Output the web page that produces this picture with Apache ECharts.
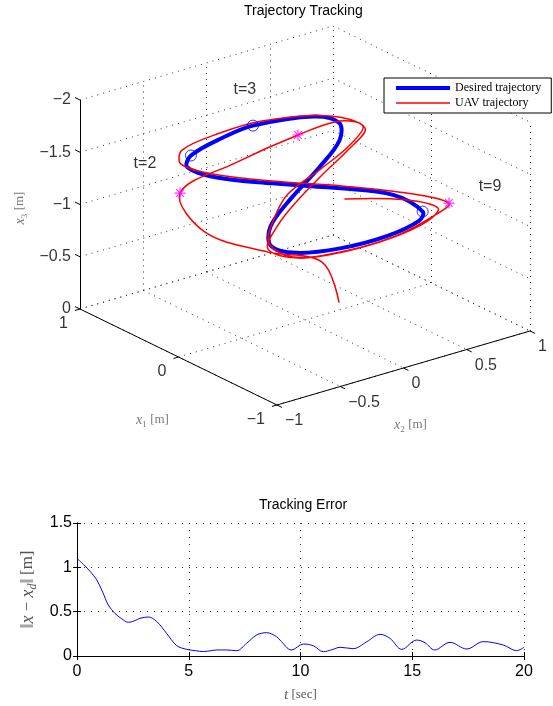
<!DOCTYPE html>
<html>
<head>
<meta charset="utf-8">
<script src="https://cdn.jsdelivr.net/npm/echarts@6/dist/echarts.min.js"></script>
<style>
  html, body { margin: 0; padding: 0; background: #fff; }
  #chart { width: 553px; height: 706px; }
</style>
</head>
<body>
<div id="chart"></div>
<script>
// ---- Desired trajectory: one 10 s period, sampled every 0.5 s (metres) ----
const desiredT  = [0, 0.5, 1, 1.5, 2, 2.5, 3, 3.5, 4, 4.5, 5, 5.5, 6, 6.5, 7, 7.5, 8, 8.5, 9, 9.5];
const desiredX1 = [-0.094, 0.094, 0.272, 0.424, 0.535, 0.593, 0.593, 0.535, 0.424, 0.272,
                    0.094, -0.094, -0.272, -0.424, -0.535, -0.593, -0.593, -0.535, -0.424, -0.272];
const desiredX2 = [0.185, -0.185, -0.485, -0.6, -0.485, -0.185, 0.05, 0.485, 0.6, 0.485,
                   0.185, -0.185, -0.485, -0.6, -0.485, -0.185, 0.185, 0.485, 0.6, 0.485];
const desiredX3 = [-1.24, -1.33, -1.41, -1.48, -1.50, -1.54, -1.57, -1.53, -1.48, -1.423,
                   -1.35, -1.27, -1.19, -1.117, -1.06, -1.023, -1.01, -1.023, -1.02, -1.15];
const desiredPeriod = 10;

// ---- UAV trajectory, 0..20 s every 0.5 s ----
const uavT  = [0, 0.5, 1, 1.5, 2, 2.5, 3, 3.5, 4, 4.5, 5, 5.5, 6, 6.5, 7, 7.5, 8, 8.5, 9, 9.5,
               10, 10.5, 11, 11.5, 12, 12.5, 13, 13.5, 14, 14.5, 15, 15.5, 16, 16.5, 17, 17.5, 18, 18.5, 19, 19.5, 20];
const uavX1 = [-0.094, 0.094, 0.272, 0.424, 0.535, 0.593, 0.593, 0.535, 0.424, 0.272,
                0.094, -0.094, -0.272, -0.424, -0.535, -0.593, -0.593, -0.535, -0.424, -0.272,
               -0.094, 0.094, 0.272, 0.424, 0.535, 0.593, 0.593, 0.535, 0.424, 0.272,
                0.094, -0.094, -0.272, -0.424, -0.535, -0.593, -0.593, -0.535, -0.424, -0.272,
               -0.094];
const uavX2 = [0.195, 0.208, -0.08, -0.46, -0.571, -0.092, 0.406, 0.693, 0.789, 0.567,
               0.208, -0.208, -0.457, -0.615, -0.511, -0.145, 0.274, 0.627, 0.808, 0.578,
               0.219, -0.187, -0.507, -0.65, -0.555, -0.21, 0.121, 0.614, 0.805, 0.551,
               0.224, -0.129, -0.425, -0.623, -0.472, -0.161, 0.226, 0.555, 0.721, 0.578,
               0.243];
const uavX3 = [-0.146, -0.438, -0.553, -0.809, -1.171, -1.262, -1.354, -1.413, -1.381, -1.349,
               -1.338, -1.322, -1.253, -1.15, -1.029, -0.984, -0.99, -1.039, -1.028, -1.138,
               -1.248, -1.353, -1.45, -1.527, -1.577, -1.591, -1.589, -1.489, -1.357, -1.306,
               -1.285, -1.237, -1.184, -1.095, -1.005, -0.98, -0.978, -0.997, -1.011, -1.071,
               -1.116];

// instants marked on both trajectories
const markTimes  = [2, 3, 9];
const markLabels = ['t=2', 't=3', 't=9'];

// ---- 3-D box ticks ----
const x1Ticks = [-1, 0, 1];
const x2Ticks = [-1, -0.5, 0, 0.5, 1];
const x3Ticks = [0, -0.5, -1, -1.5, -2];

// ---- Tracking error ----
const errT = [0, 0.3, 0.6, 0.88, 1.15, 1.4, 1.7, 2.0, 2.3, 2.6, 2.82, 3.19, 3.56, 4.01, 4.46, 4.91,
              5.3, 5.65, 6.0, 6.25, 6.7, 7.14, 7.59, 8.04, 8.49, 8.93, 9.08, 9.6, 10.13, 10.57, 11.02,
              11.4, 11.77, 12.36, 12.96, 13.56, 14.0, 14.53, 15.2, 15.57, 16.0, 16.69, 17.44, 18.18,
              19.07, 19.67, 20];
const errV = [1.10, 1.03, 0.95, 0.86, 0.72, 0.575, 0.48, 0.42, 0.38, 0.40, 0.425, 0.44, 0.39, 0.255, 0.117, 0.075,
              0.06, 0.05, 0.06, 0.068, 0.068, 0.06, 0.143, 0.237, 0.263, 0.218, 0.18, 0.068, 0.135, 0.116, 0.049,
              0.07, 0.098, 0.083, 0.16, 0.244, 0.2, 0.075, 0.18, 0.15, 0.068, 0.154, 0.079, 0.162,
              0.124, 0.06, 0.098];
const errXTicks = [0, 5, 10, 15, 20];
const errYTicks = [0, 0.5, 1, 1.5];

// ---- orthographic view of the 3-D box (x3 axis points down) ----
const VIEW = { ox: 305, oy: 320, e1: [-98.5, -48], e2: [126.5, -37], e3: [0, 104.5] };
function proj(p) {
  return [
    VIEW.ox + p[0] * VIEW.e1[0] + p[1] * VIEW.e2[0] + p[2] * VIEW.e3[0],
    VIEW.oy + p[0] * VIEW.e1[1] + p[1] * VIEW.e2[1] + p[2] * VIEW.e3[1]
  ];
}
const x1Lim = [Math.min(...x1Ticks), Math.max(...x1Ticks)];
const x2Lim = [Math.min(...x2Ticks), Math.max(...x2Ticks)];
const x3Lim = [Math.max(...x3Ticks), Math.min(...x3Ticks)];
const seg = (a, b) => ({ coords: [proj(a), proj(b)] });
const fmt = v => String(v).replace('-', '\u2212');

// dotted grid on the back walls and floor
const gridSegs = [];
x3Ticks.forEach(z => gridSegs.push(seg([x1Lim[1], x2Lim[0], z], [x1Lim[1], x2Lim[1], z])));
x2Ticks.forEach(y => gridSegs.push(seg([x1Lim[1], y, x3Lim[0]], [x1Lim[1], y, x3Lim[1]])));
x3Ticks.forEach(z => gridSegs.push(seg([x1Lim[1], x2Lim[1], z], [x1Lim[0], x2Lim[1], z])));
x1Ticks.forEach(x => gridSegs.push(seg([x, x2Lim[1], x3Lim[0]], [x, x2Lim[1], x3Lim[1]])));
x2Ticks.forEach(y => gridSegs.push(seg([x1Lim[1], y, 0], [x1Lim[0], y, 0])));
x1Ticks.forEach(x => gridSegs.push(seg([x, x2Lim[0], 0], [x, x2Lim[1], 0])));

// solid axis lines and tick marks
const axisSegs = [
  seg([x1Lim[1], x2Lim[0], 0], [x1Lim[0], x2Lim[0], 0]),
  seg([x1Lim[0], x2Lim[0], 0], [x1Lim[0], x2Lim[1], 0]),
  seg([x1Lim[1], x2Lim[0], x3Lim[0]], [x1Lim[1], x2Lim[0], x3Lim[1]])
];
x3Ticks.forEach(z => axisSegs.push(seg([x1Lim[1], x2Lim[0], z], [x1Lim[1] + 0.05, x2Lim[0], z])));
x1Ticks.forEach(x => axisSegs.push(seg([x, x2Lim[0], 0], [x, x2Lim[0] - 0.04, 0])));
x2Ticks.forEach(y => axisSegs.push(seg([x1Lim[0], y, 0], [x1Lim[0] - 0.05, y, 0])));

// tick labels
const tickLabelItems = [];
x3Ticks.forEach(z => tickLabelItems.push({ value: proj([x1Lim[1], x2Lim[0], z]), txt: fmt(z), label: { align: 'right', offset: [-9, 0] } }));
x1Ticks.forEach(x => tickLabelItems.push({ value: proj([x, x2Lim[0], 0]), txt: fmt(x), label: { align: 'right', offset: [-12, 15] } }));
x2Ticks.forEach(y => tickLabelItems.push({ value: proj([x1Lim[0], y, 0]), txt: fmt(y), label: { align: 'left', offset: [8, 16] } }));

// trajectories (desired one repeats every period over 0..20 s)
const desiredPath = [];
for (let k = 0; k <= 2 * desiredT.length; k++) {
  const i = k % desiredT.length;
  desiredPath.push(proj([desiredX1[i], desiredX2[i], desiredX3[i]]));
}
const uavPath = uavT.map((t, i) => proj([uavX1[i], uavX2[i], uavX3[i]]));

const desiredAt = t => {
  const i = desiredT.indexOf(t % desiredPeriod);
  return proj([desiredX1[i], desiredX2[i], desiredX3[i]]);
};
const uavAt = t => {
  const i = uavT.indexOf(t);
  return proj([uavX1[i], uavX2[i], uavX3[i]]);
};
const circleMarks = markTimes.map(desiredAt);
const starMarks = markTimes.map(uavAt);
const markLabelOffsets = { 't=2': [-46, 8], 't=3': [-8, -36], 't=9': [41, -16] };
const markTextItems = markTimes.map((t, i) => {
  const anchor = (t === 9) ? uavAt(t) : desiredAt(t);
  return { value: anchor, txt: markLabels[i], label: { offset: markLabelOffsets[markLabels[i]] } };
});

// axis names in the 3-D box
const axisNameItems = [
  { value: proj([0, x2Lim[0], 0]), txt: '{i|x}{s|1} {n|[m]}', label: { offset: [-26, 63] } },
  { value: proj([x1Lim[0], 0, 0]), txt: '{i|x}{s|2} {n|[m]}', label: { offset: [7, 57] } },
  { value: proj([x1Lim[1], x2Lim[0], -1]), txt: '{i|x}{s|3} {n|[m]}', label: { offset: [-3.5, -60], rotate: 90 } }
];

const SANS = 'Liberation Sans, Arial, Helvetica, sans-serif';
const SERIF = 'Liberation Serif, DejaVu Serif, serif';
const LBL = '#555';
const mathRich = {
  i: { fontFamily: SERIF, fontStyle: 'italic', fontSize: 14, color: LBL, lineHeight: 18 },
  s: { fontFamily: SERIF, fontSize: 9, color: LBL, verticalAlign: 'bottom', lineHeight: 12 },
  n: { fontFamily: SERIF, fontSize: 13, color: LBL, lineHeight: 18 },
  b: { fontFamily: SERIF, fontSize: 14, color: LBL, lineHeight: 18 }
};
const mathRichLarge = {
  i: { fontFamily: SERIF, fontStyle: 'italic', fontSize: 18, color: LBL, lineHeight: 22 },
  s: { fontFamily: SERIF, fontStyle: 'italic', fontSize: 12, color: LBL, verticalAlign: 'bottom', lineHeight: 14 },
  n: { fontFamily: SERIF, fontSize: 17, color: LBL, lineHeight: 22 },
  b: { fontFamily: SERIF, fontSize: 18, color: LBL, lineHeight: 22 }
};
const asterisk = 'path://M0,5L10,5M5,0L5,10M1.5,1.5L8.5,8.5M8.5,1.5L1.5,8.5';
const hidden = { color: 'rgba(0,0,0,0)' };

// draws a whole trajectory as one smooth polyline through the library's coordinate mapping
function trajectoryRenderer(points, color, width) {
  return function (params, api) {
    if (params.dataIndex !== 0) return null;
    return {
      type: 'polyline',
      shape: { points: points.map(p => api.coord(p)), smooth: 0.35, smoothConstraint: false },
      style: { stroke: color, lineWidth: width, fill: null, lineJoin: 'round', lineCap: 'round' },
      silent: true
    };
  };
}

const option = {
  animation: false,
  backgroundColor: '#fff',
  title: [
    { text: 'Trajectory Tracking', left: 244, top: 4, padding: 0,
      textStyle: { fontFamily: SANS, fontSize: 14, fontWeight: 'normal', color: '#000' } },
    { text: 'Tracking Error', left: 259, top: 498, padding: 0,
      textStyle: { fontFamily: SANS, fontSize: 14, fontWeight: 'normal', color: '#000' } }
  ],
  legend: {
    data: [
      { name: 'Desired trajectory', icon: 'path://M0,0H54V4H0Z' },
      { name: 'UAV trajectory', icon: 'path://M0,0H54V1.5H0Z' }
    ],
    orient: 'vertical', left: 384, top: 78,
    itemWidth: 54, itemHeight: 12, itemGap: 3,
    padding: [4, 10, 4, 12],
    borderColor: '#000', borderWidth: 1, borderRadius: 0, backgroundColor: '#fff',
    selectedMode: false,
    textStyle: { fontFamily: SERIF, fontSize: 12, color: '#000' },
    z: 20
  },
  grid: [
    { left: 0, top: 0, width: 553, height: 450 },
    { left: 77, top: 523, width: 447, height: 133 }
  ],
  xAxis: [
    { gridIndex: 0, type: 'value', min: 0, max: 553, show: false },
    { gridIndex: 1, type: 'value', min: errXTicks[0], max: errXTicks[errXTicks.length - 1], interval: 5,
      axisLine: { lineStyle: { color: '#000', width: 1 } },
      axisTick: { inside: true, length: 4, lineStyle: { color: '#000' } },
      axisLabel: { fontFamily: SANS, fontSize: 16, color: '#000', margin: 8 },
      splitLine: { show: true, lineStyle: { color: '#333', type: [1, 6], width: 1 } },
      name: '{i|t} {n|[sec]}', nameLocation: 'middle', nameGap: 30,
      nameTextStyle: { rich: mathRich } },
    { gridIndex: 1, type: 'value', position: 'top', min: 0, max: 20, interval: 5,
      axisLine: { lineStyle: { color: '#000', width: 1 } },
      axisTick: { inside: true, length: 4, lineStyle: { color: '#000' } },
      axisLabel: { show: false }, splitLine: { show: false } }
  ],
  yAxis: [
    { gridIndex: 0, type: 'value', min: 0, max: 450, inverse: true, show: false },
    { gridIndex: 1, type: 'value', min: errYTicks[0], max: errYTicks[errYTicks.length - 1], interval: 0.5,
      axisLine: { show: true, lineStyle: { color: '#000', width: 1 } },
      axisTick: { show: true, inside: true, length: 4, lineStyle: { color: '#000' } },
      axisLabel: { fontFamily: SANS, fontSize: 16, color: '#000', margin: 5 },
      splitLine: { show: true, lineStyle: { color: '#333', type: [1, 6], width: 1 } },
      name: '{b|\u2016}{i|x}{n| \u2212 }{i|x}{s|d}{b|\u2016} {n|[m]}', nameLocation: 'middle', nameGap: 36, nameRotate: 90,
      nameTextStyle: { rich: mathRichLarge } },
    { gridIndex: 1, type: 'value', position: 'right', min: 0, max: 1.5, interval: 0.5,
      axisLine: { show: true, lineStyle: { color: '#000', width: 1 } },
      axisTick: { show: true, inside: true, length: 4, lineStyle: { color: '#000' } },
      axisLabel: { show: false }, splitLine: { show: false } }
  ],
  series: [
    { name: 'box grid', type: 'lines', coordinateSystem: 'cartesian2d', xAxisIndex: 0, yAxisIndex: 0,
      silent: true, z: 1, data: gridSegs,
      lineStyle: { color: '#333', width: 1, type: [1, 5], opacity: 1 } },
    { name: 'box axes', type: 'lines', coordinateSystem: 'cartesian2d', xAxisIndex: 0, yAxisIndex: 0,
      silent: true, z: 2, data: axisSegs,
      lineStyle: { color: '#000', width: 1, opacity: 1 } },
    { name: 'box tick labels', type: 'scatter', xAxisIndex: 0, yAxisIndex: 0, silent: true, z: 2,
      symbolSize: 1, itemStyle: hidden, data: tickLabelItems,
      label: { show: true, position: 'inside', verticalAlign: 'middle', formatter: p => p.data.txt,
               fontFamily: SANS, fontSize: 16, color: '#000' } },
    { name: 'Desired trajectory', type: 'custom', coordinateSystem: 'cartesian2d', xAxisIndex: 0, yAxisIndex: 0, z: 3,
      data: desiredPath, clip: false, itemStyle: { color: '#0000ff' },
      renderItem: trajectoryRenderer(desiredPath, '#0000ff', 4) },
    { name: 'UAV trajectory', type: 'custom', coordinateSystem: 'cartesian2d', xAxisIndex: 0, yAxisIndex: 0, z: 4,
      data: uavPath, clip: false, itemStyle: { color: '#ff0000' },
      renderItem: trajectoryRenderer(uavPath, '#ff0000', 1.5) },
    { name: 'desired marks', type: 'scatter', xAxisIndex: 0, yAxisIndex: 0, z: 5, silent: true,
      data: circleMarks, symbol: 'circle', symbolSize: 11,
      itemStyle: { color: 'rgba(0,0,0,0)', borderColor: '#0000ff', borderWidth: 1 } },
    { name: 'uav marks', type: 'scatter', xAxisIndex: 0, yAxisIndex: 0, z: 5, silent: true,
      data: starMarks, symbol: asterisk, symbolSize: 11,
      itemStyle: { color: 'rgba(0,0,0,0)', borderColor: '#ff00ff', borderWidth: 1.2 } },
    { name: 'mark text', type: 'scatter', xAxisIndex: 0, yAxisIndex: 0, z: 6, silent: true,
      symbolSize: 1, itemStyle: hidden, data: markTextItems,
      label: { show: true, position: 'inside', align: 'center', verticalAlign: 'middle', formatter: p => p.data.txt,
               fontFamily: SANS, fontSize: 16, color: '#000' } },
    { name: 'box axis names', type: 'scatter', xAxisIndex: 0, yAxisIndex: 0, z: 6, silent: true,
      symbolSize: 1, itemStyle: hidden, data: axisNameItems,
      label: { show: true, position: 'inside', align: 'center', verticalAlign: 'middle', formatter: p => p.data.txt,
               rich: mathRich } },
    { name: 'tracking error', type: 'line', xAxisIndex: 1, yAxisIndex: 1, z: 3,
      data: errT.map((t, i) => [t, errV[i]]), symbol: 'none', smooth: 0.35,
      lineStyle: { color: '#0000ff', width: 1 } }
  ]
};

const chart = echarts.init(document.getElementById('chart'), null, { renderer: 'canvas', width: 553, height: 706 });
chart.setOption(option);
</script>
</body>
</html>
